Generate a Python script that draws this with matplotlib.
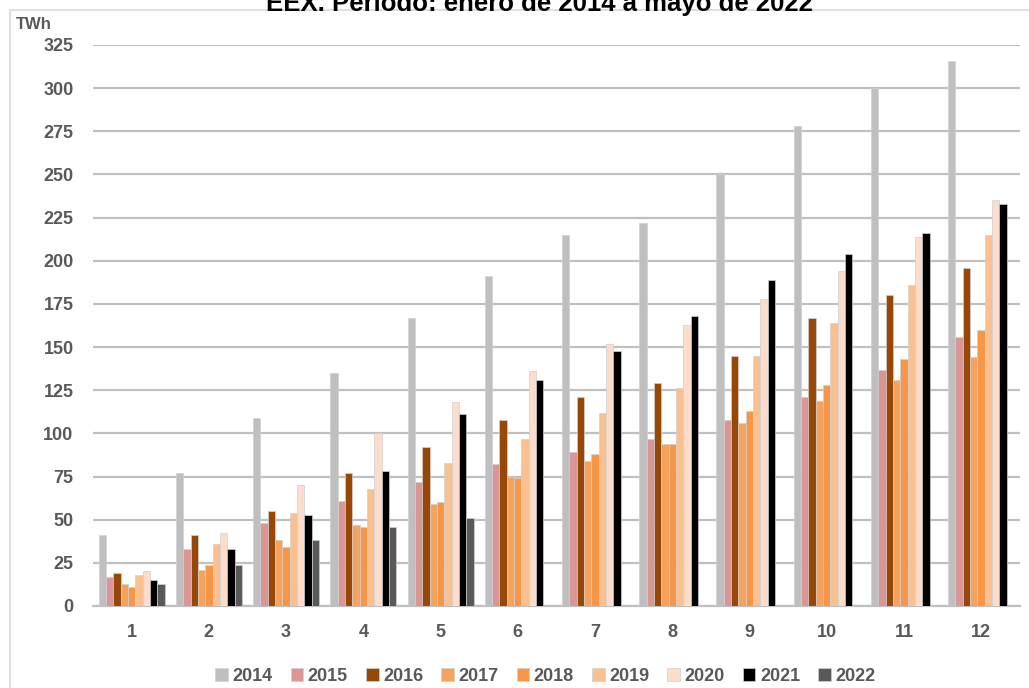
#monthly cumulative energy per year, grouped bars with legend at the bottom

import numpy as np
from matplotlib import pyplot as plt
from matplotlib.patches import Rectangle

plt.rcParams['font.family'] = ['Liberation Sans', 'DejaVu Sans']

months = [1, 2, 3, 4, 5, 6, 7, 8, 9, 10, 11, 12]
years = ["2014", "2015", "2016", "2017", "2018", "2019", "2020", "2021", "2022"]

#TWh per month
y2014 = [41, 77, 109, 135, 167, 191, 215, 222, 250, 278, 300, 316]
y2015 = [17, 33, 48, 61, 72, 82, 89, 97, 108, 121, 137, 156]
y2016 = [19, 41, 55, 77, 92, 108, 121, 129, 145, 167, 180, 196]
y2017 = [13, 21, 38, 47, 59, 75, 84, 94, 106, 119, 131, 144]
y2018 = [11, 24, 34, 46, 60, 74, 88, 94, 113, 128, 143, 160]
y2019 = [18, 36, 54, 68, 83, 97, 112, 126, 145, 164, 186, 215]
y2020 = [20, 42, 70, 100, 118, 136, 152, 163, 178, 194, 214, 235]
y2021 = [15, 33, 53, 78, 111, 131, 148, 168, 189, 204, 216, 233]
y2022 = [13, 24, 38, 46, 51]

series = [y2014, y2015, y2016, y2017, y2018, y2019, y2020, y2021, y2022]
colors = ["#bfbfbf", "#d99694", "#974806", "#f5a35c", "#f79646",
          "#fac08f", "#fcdcca", "#000000", "#595959"]

txt = "#595959"
fig = plt.figure(figsize=(10.29, 6.88), dpi=100)
ax = fig.add_axes([0.0904, 0.1192, 0.9006, 0.8154])

w = 0.095
for i, (vals, c) in enumerate(zip(series, colors)):
    x = np.array(months[:len(vals)]) + (i - 4) * w
    ax.bar(x, vals, width=w, color=c, edgecolor="#d0d0d0", linewidth=0.5,
           label=years[i], zorder=3)

ax.set_xlim(0.5, 12.5)
ax.set_ylim(0, 325)
ax.set_yticks(np.arange(0, 326, 25))
ax.set_xticks(months)
ax.grid(axis="y", color="#c0c0c0", linewidth=1.6, zorder=0)
for s in ["top", "right", "left"]:
    ax.spines[s].set_visible(False)
ax.spines["bottom"].set_color("#c0c0c0")
ax.spines["bottom"].set_linewidth(1.6)
ax.tick_params(axis="both", length=0, labelsize=13, labelcolor=txt)
ax.tick_params(axis="y", pad=14)
ax.tick_params(axis="x", pad=13)
for lab in ax.get_xticklabels() + ax.get_yticklabels():
    lab.set_fontweight("bold")

fig.text(0.015, 0.965, "TWh", fontsize=12, fontweight="bold", color=txt,
         va="center", ha="left")
fig.text(0.524, 0.994, "EEX. Periodo: enero de 2014 a mayo de 2022",
         fontsize=18.5, fontweight="bold", ha="center", va="center")

#outer frame of the chart area
fig.patches.append(Rectangle((10 / 1029, -0.1), 1.2, 1.1 - 10 / 688,
                             transform=fig.transFigure, fill=False,
                             edgecolor="#d9d9d9", linewidth=1.2))

leg = fig.legend(loc="center", bbox_to_anchor=(0.53, 0.017), ncol=9, frameon=False,
                 handlelength=0.7, handleheight=0.7, handletextpad=0.25,
                 columnspacing=1.0, fontsize=13)
for t in leg.get_texts():
    t.set_color(txt)
    t.set_fontweight("bold")

plt.savefig("out.png")
